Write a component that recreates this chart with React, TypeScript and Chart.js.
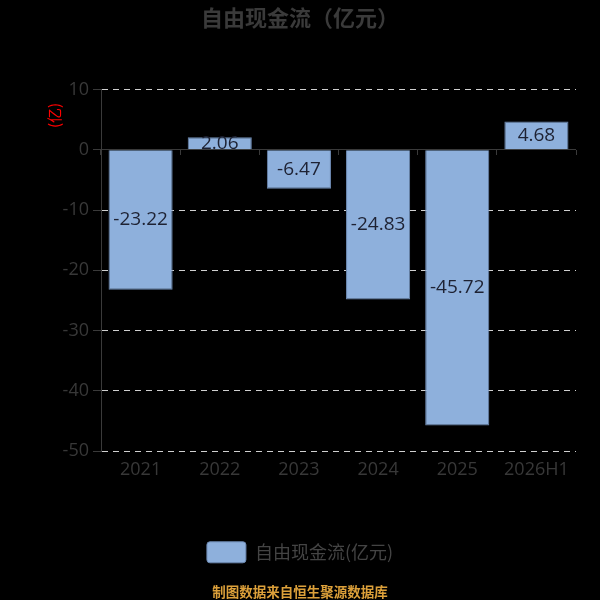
import React, { useEffect, useRef } from "react";
import { Chart, registerables } from "chart.js";

Chart.register(...registerables);

const categories = ["2021", "2022", "2023", "2024", "2025", "2026H1"];
const freeCashFlow = [-23.22, 2.06, -6.47, -24.83, -45.72, 4.68];
const yMin = -50;
const yMax = 10;
const yStep = 10;

const titleText = "自由现金流（亿元）";
const seriesName = "自由现金流(亿元)";
const yAxisTitle = "(亿)";
const footerText = "制图数据来自恒生聚源数据库";

const NUM_FONT = "'Open Sans', 'Noto Sans', sans-serif";
const CJK_FONT = "'Noto Sans CJK SC', 'Noto Sans', sans-serif";

const barLabelPlugin = {
  id: "barLabels",
  afterDatasetsDraw(chart: any) {
    const ctx = chart.ctx;
    const meta = chart.getDatasetMeta(0);
    const data = chart.data.datasets[0].data as number[];
    ctx.save();
    ctx.font = `19px ${NUM_FONT}`;
    ctx.fillStyle = "#1e2233";
    ctx.textAlign = "center";
    ctx.textBaseline = "middle";
    meta.data.forEach((el: any, i: number) => {
      const { x, y, base } = el.getProps(["x", "y", "base"], true);
      ctx.fillText(String(data[i]), x, (y + base) / 2);
    });
    ctx.restore();
  },
};

const yTitlePlugin = {
  id: "yTitle",
  afterDraw(chart: any) {
    const ctx = chart.ctx;
    const area = chart.chartArea;
    ctx.save();
    ctx.translate(area.left - 46.5, area.top + 26);
    ctx.rotate(-Math.PI / 2);
    ctx.font = `15px ${CJK_FONT}`;
    ctx.fillStyle = "#ff0000";
    ctx.textAlign = "center";
    ctx.textBaseline = "middle";
    ctx.fillText(yAxisTitle, 0, 0);
    ctx.restore();
  },
};

export default function App() {
  const canvasRef = useRef<HTMLCanvasElement | null>(null);

  useEffect(() => {
    document.body.style.margin = "0";
    document.body.style.background = "#000";
    document.documentElement.style.background = "#000";
    const canvas = canvasRef.current;
    if (!canvas) return;
    const chart = new Chart(canvas, {
      type: "bar",
      data: {
        labels: categories,
        datasets: [
          {
            label: seriesName,
            data: freeCashFlow,
            xAxisID: "x",
            yAxisID: "y",
            backgroundColor: "#8eb0dc",
            borderColor: "#6c88b0",
            borderWidth: 1,
            barPercentage: 0.9,
            categoryPercentage: 0.9,
          },
        ],
      },
      options: {
        responsive: false,
        animation: false,
        devicePixelRatio: 1,
        layout: { padding: { left: 24, right: 24, top: 0, bottom: 0 } },
        plugins: {
          title: {
            display: true,
            text: titleText,
            color: "#3a3a3a",
            font: { family: CJK_FONT, size: 22, weight: "bold" },
            padding: { top: 4, bottom: 59 },
          },
          subtitle: {
            display: true,
            text: footerText,
            position: "bottom",
            color: "#dca03a",
            font: { family: CJK_FONT, size: 13.5, weight: "bold" },
            padding: { top: 11, bottom: 0 },
          },
          legend: {
            display: true,
            position: "bottom",
            labels: {
              color: "#444444",
              font: { family: CJK_FONT, size: 18 },
              boxWidth: 39,
              boxHeight: 21,
              useBorderRadius: true,
              borderRadius: 3,
            },
          },
          tooltip: { enabled: false },
        },
        scales: {
          x: {
            type: "category",
            position: "bottom",
            offset: true,
            grid: { display: false },
            border: { display: false },
            ticks: {
              color: "#383838",
              font: { family: NUM_FONT, size: 18 },
              padding: 0,
              maxRotation: 0,
              autoSkip: false,
            },
            afterFit(scale: any) {
              scale.height += 51;
            },
          },
          xz: {
            type: "category",
            position: { y: 0 } as any,
            offset: true,
            grid: {
              display: true,
              offset: true,
              drawOnChartArea: false,
              drawTicks: true,
              tickLength: 5,
              color: "#3a3a3a",
              tickColor: "#3a3a3a",
            },
            border: { display: false },
            ticks: { display: false },
          },
          y: {
            type: "linear",
            min: yMin,
            max: yMax,
            ticks: {
              stepSize: yStep,
              color: "#383838",
              font: { family: NUM_FONT, size: 18 },
              padding: 4,
            },
            grid: {
              color: (c: any) => (c.tick && c.tick.value === 0 ? "#3a3a3a" : "#d0d0d0"),
              tickColor: "#3a3a3a",
              tickLength: 8,
              lineWidth: 1,
            },
            border: {
              display: true,
              color: "#3a3a3a",
              width: 1,
              dash: (c: any) => (c.tick && c.tick.value === 0 ? [] : [6, 5]),
            } as any,
            afterFit(scale: any) {
              scale.width = 77;
            },
          },
        },
      },
      plugins: [barLabelPlugin, yTitlePlugin],
    });
    return () => chart.destroy();
  }, []);

  return (
    <div style={{ width: 600, height: 600, background: "#000" }}>
      <canvas ref={canvasRef} width={600} height={600} />
    </div>
  );
}
